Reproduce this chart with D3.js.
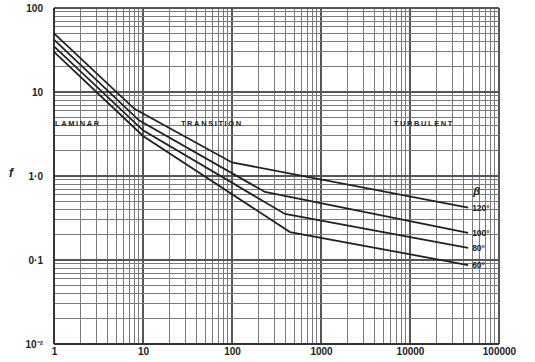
<!DOCTYPE html>
<html>
<head>
<meta charset="utf-8">
<script src="https://cdn.jsdelivr.net/npm/d3@7/dist/d3.min.js"></script>
<style>
  html, body { margin: 0; padding: 0; background: #fff; }
  svg { display: block; }
  text { font-family: "Liberation Sans", Arial, sans-serif; fill: #222; }
</style>
</head>
<body>
<svg id="chart" width="535" height="362"></svg>
<script>
// ---- data ----
const xTickValues = [1, 10, 100, 1000, 10000, 100000];
const xTickLabels = ["1", "10", "100", "1000", "10000", "100000"];
const yTickValues = [100, 10, 1, 0.1, 0.01];
const yTickLabels = ["100", "10", "1·0", "0·1", "10⁻²"];
const betaLabels = ["120°", "100°", "80°", "60°"];
const re120 = [1, 8, 100, 45000];
const f120  = [50, 6.3, 1.45, 0.42];
const re100 = [1, 9, 235, 45000];
const f100  = [42, 4.6, 0.645, 0.21];
const re80  = [1, 10, 394, 45000];
const f80   = [35, 3.5, 0.353, 0.139];
const re60  = [1, 10, 448, 45000];
const f60   = [30, 3.0, 0.215, 0.087];
const regionNames = ["LAMINAR", "TRANSITION", "TURBULENT"];
const regionRe = [1.0, 26, 6400];
const regionF = 3.9;

const series = [
  { label: betaLabels[0], re: re120, f: f120 },
  { label: betaLabels[1], re: re100, f: f100 },
  { label: betaLabels[2], re: re80,  f: f80 },
  { label: betaLabels[3], re: re60,  f: f60 }
];

// ---- layout ----
const svg = d3.select("#chart");
const pL = 54, pR = 499, pT = 8, pB = 344;

const x = d3.scaleLog().domain([1, 100000]).range([pL, pR]);
const y = d3.scaleLog().domain([0.01, 100]).range([pB, pT]);

// grid
const xGrid = [];
for (let e = 0; e < 5; e++) for (let k = 1; k <= 9; k++) xGrid.push(k * Math.pow(10, e));
xGrid.push(100000);
const yGrid = [];
for (let e = -2; e < 2; e++) for (let k = 1; k <= 9; k++) yGrid.push(k * Math.pow(10, e));
yGrid.push(100);

const isDecade = v => Math.abs(Math.log10(v) - Math.round(Math.log10(v))) < 1e-9;

const g = svg.append("g");
g.selectAll("line.vg").data(xGrid).join("line")
  .attr("x1", d => x(d)).attr("x2", d => x(d))
  .attr("y1", pT).attr("y2", pB)
  .attr("stroke", d => isDecade(d) ? "#555" : "#7a7a7a")
  .attr("stroke-width", d => isDecade(d) ? 1.3 : 1)
  .attr("shape-rendering", "crispEdges");
g.selectAll("line.hg").data(yGrid).join("line")
  .attr("x1", pL).attr("x2", pR)
  .attr("y1", d => y(d)).attr("y2", d => y(d))
  .attr("stroke", d => isDecade(d) ? "#555" : "#7a7a7a")
  .attr("stroke-width", d => isDecade(d) ? 1.3 : 1)
  .attr("shape-rendering", "crispEdges");

// frame (left and bottom darker)
svg.append("line").attr("x1", pL).attr("x2", pL).attr("y1", pT).attr("y2", pB)
  .attr("stroke", "#333").attr("stroke-width", 1.8);
svg.append("line").attr("x1", pL).attr("x2", pR).attr("y1", pB).attr("y2", pB)
  .attr("stroke", "#333").attr("stroke-width", 1.8);

// axes labels via d3 axes
const xAxis = d3.axisBottom(x).tickValues(xTickValues)
  .tickFormat((d, i) => xTickLabels[i]).tickSize(0).tickPadding(4);
const xg = svg.append("g").attr("transform", `translate(0,${pB})`).call(xAxis);
xg.select(".domain").remove();
xg.selectAll("text").style("font-size", "10px").style("font-weight", "bold")
  .attr("fill", "#222").attr("font-family", "Liberation Sans, Arial, sans-serif");

const yAxis = d3.axisLeft(y).tickValues(yTickValues)
  .tickFormat((d, i) => yTickLabels[i]).tickSize(0).tickPadding(11);
const yg = svg.append("g").attr("transform", `translate(${pL},0)`).call(yAxis);
yg.select(".domain").remove();
yg.selectAll("text").style("font-size", "10px").style("font-weight", "bold")
  .attr("fill", "#222").attr("font-family", "Liberation Sans, Arial, sans-serif");

// axis title
svg.append("text").attr("x", 11).attr("y", 177).attr("text-anchor", "middle")
  .style("font-size", "12px").style("font-style", "italic").style("font-weight", "bold")
  .attr("font-family", "Liberation Serif, serif").text("f");

// region labels
svg.selectAll("text.region").data(regionNames).join("text")
  .attr("x", (d, i) => x(regionRe[i]) + 1).attr("y", y(regionF))
  .style("font-size", "7.5px").style("font-weight", "bold").style("letter-spacing", "1.6px")
  .text(d => d);

// curves
const line = d3.line().x(d => x(d[0])).y(d => y(d[1]));
svg.selectAll("path.curve").data(series).join("path")
  .attr("d", s => line(s.re.map((r, i) => [r, s.f[i]])))
  .attr("fill", "none").attr("stroke", "#222").attr("stroke-width", 1.8);

// curve labels
svg.selectAll("text.blab").data(series).join("text")
  .attr("x", s => x(s.re[s.re.length - 1]) + 4)
  .attr("y", s => y(s.f[s.f.length - 1]) + 3)
  .style("font-size", "8.5px").style("font-weight", "bold")
  .text(s => s.label);
svg.append("text")
  .attr("x", x(re120[re120.length - 1]) + 5)
  .attr("y", y(f120[f120.length - 1]) - 13)
  .style("font-size", "11px").style("font-weight", "bold").style("font-style", "italic")
  .text("β");
</script>
</body>
</html>
